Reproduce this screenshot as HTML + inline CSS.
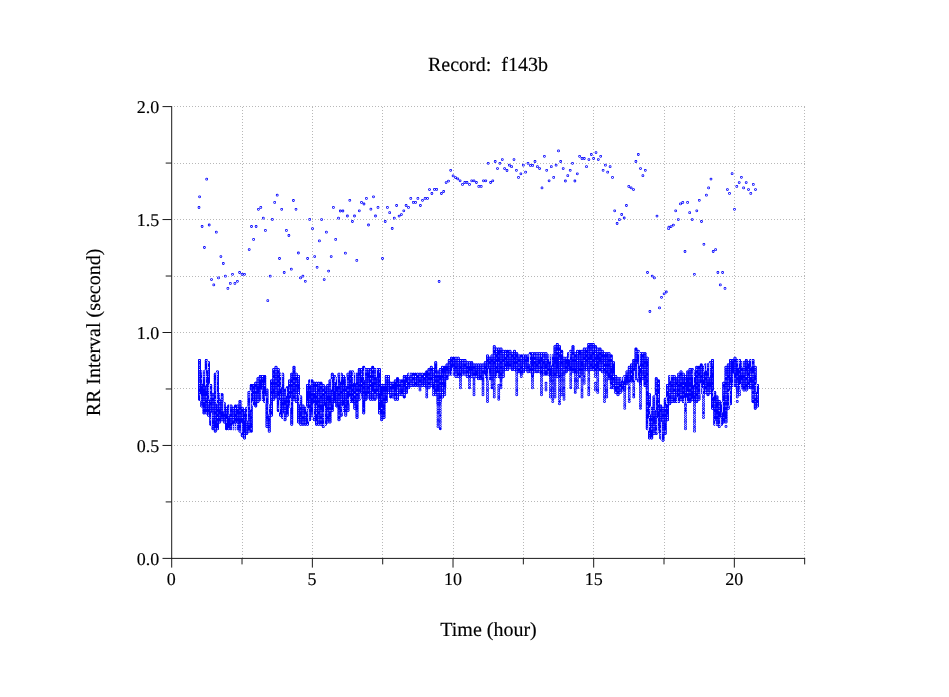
<!DOCTYPE html>
<html lang="en"><head><meta charset="utf-8"><title>Record: f143b</title>
<style>html,body{margin:0;padding:0;background:#fff;}body{width:949px;height:697px;overflow:hidden;position:relative;font-family:"Liberation Serif",serif;}</style>
</head><body>
<svg width="949" height="697" viewBox="0 0 949 697" style="display:block;position:absolute;left:0;top:0">
<rect width="949" height="697" fill="#fff"/>
<g stroke="#b8b8b8" stroke-width="1" stroke-dasharray="1 2" fill="none" shape-rendering="crispEdges"><path d="M242.5 107V558"/><path d="M312.5 107V558"/><path d="M382.5 107V558"/><path d="M453.5 107V558"/><path d="M523.5 107V558"/><path d="M593.5 107V558"/><path d="M664.5 107V558"/><path d="M734.5 107V558"/><path d="M804.5 107V558"/><path d="M174 501.5H806"/><path d="M174 445.5H806"/><path d="M174 388.5H806"/><path d="M174 332.5H806"/><path d="M174 276.5H806"/><path d="M174 219.5H806"/><path d="M174 163.5H806"/><path d="M174 106.5H806"/></g>
<g fill="none" stroke-linecap="round"><path stroke="#0000ff" stroke-width="2.8" d="M206.7 179.2h0M199.6 196.8h0M199.0 207.5h0M202.1 226.5h0M209.2 225.0h0M216.3 232.2h0M204.4 247.5h0M277.2 195.2h0M274.7 202.4h0M293.4 200.5h0M260.8 207.4h0M258.4 209.3h0M281.7 209.3h0M296.0 209.3h0M263.3 218.2h0M272.3 219.4h0M309.7 219.4h0M251.5 226.5h0M256.1 226.5h0M265.4 230.4h0M286.4 230.4h0M288.9 235.5h0M253.6 239.4h0M249.2 249.6h0M220.9 256.6h0M223.3 263.5h0M279.5 258.5h0M298.4 253.0h0M307.6 258.5h0M291.3 269.2h0M284.2 272.5h0M239.6 272.5h0M232.5 274.3h0M242.1 274.4h0M244.5 274.3h0M225.4 276.2h0M270.2 276.2h0M302.9 276.2h0M300.5 277.9h0M218.5 277.9h0M211.5 279.6h0M305.3 281.3h0M237.4 281.3h0M230.3 283.4h0M234.9 283.4h0M213.8 284.9h0M227.9 288.4h0M267.8 300.7h0M312.5 228.7h0M321.6 219.6h0M326.4 232.2h0M319.4 240.9h0M333.4 207.4h0M335.7 239.4h0M338.5 218.2h0M340.3 211.0h0M342.9 211.0h0M347.4 216.0h0M349.8 200.3h0M352.4 221.5h0M354.5 216.0h0M359.3 210.8h0M361.5 202.4h0M364.0 204.0h0M366.4 198.4h0M368.5 225.0h0M370.9 209.2h0M373.5 196.8h0M375.5 216.0h0M378.0 207.4h0M385.2 221.5h0M387.4 207.4h0M389.7 212.7h0M392.2 228.5h0M394.3 218.2h0M396.6 205.5h0M399.1 216.1h0M401.4 214.6h0M403.8 210.8h0M406.1 205.5h0M408.5 207.4h0M410.8 198.4h0M413.3 202.4h0M415.6 202.4h0M417.9 198.4h0M420.4 205.5h0M422.5 200.3h0M425.1 198.4h0M427.5 198.4h0M429.5 189.6h0M314.7 256.6h0M331.2 256.6h0M345.4 253.2h0M356.8 260.4h0M382.5 258.5h0M317.1 267.3h0M328.6 271.1h0M324.2 279.6h0M431.9 193.5h0M434.4 189.4h0M436.7 189.4h0M441.4 193.5h0M443.7 191.5h0M446.1 182.6h0M448.5 181.1h0M450.7 170.3h0M453.1 175.9h0M455.5 177.6h0M457.8 178.9h0M460.1 180.8h0M462.5 184.4h0M464.8 182.5h0M467.0 182.5h0M469.5 184.4h0M471.7 180.8h0M474.0 180.8h0M476.4 182.5h0M478.8 186.4h0M481.2 186.4h0M483.5 180.8h0M485.8 180.8h0M488.2 163.3h0M490.6 182.5h0M492.8 180.8h0M495.2 161.5h0M497.5 168.6h0M499.9 163.3h0M502.3 159.6h0M504.6 168.6h0M507.0 170.5h0M509.3 165.2h0M511.6 166.7h0M514.0 159.6h0M516.4 170.3h0M518.5 177.4h0M520.9 173.8h0M523.3 165.2h0M525.6 172.2h0M528.0 163.3h0M530.4 165.4h0M532.7 165.4h0M535.0 161.5h0M537.4 166.7h0M539.6 168.6h0M542.0 187.9h0M544.4 156.3h0M546.7 170.3h0M549.1 180.8h0M439.1 281.5h0M551.3 166.7h0M553.7 177.4h0M556.1 165.2h0M558.5 150.9h0M560.7 161.5h0M563.2 168.6h0M565.4 181.0h0M567.8 175.7h0M570.2 170.3h0M572.5 163.3h0M574.9 181.0h0M577.3 173.8h0M579.6 156.3h0M582.0 158.5h0M584.3 158.5h0M586.5 166.7h0M588.9 159.6h0M591.3 154.5h0M593.6 158.5h0M596.0 152.6h0M598.3 159.6h0M600.7 156.3h0M603.1 170.3h0M605.4 165.2h0M607.7 172.2h0M610.1 166.7h0M612.5 177.4h0M614.7 210.8h0M617.1 223.5h0M619.4 219.7h0M621.7 214.5h0M624.2 218.0h0M626.4 205.5h0M628.8 186.4h0M631.1 187.9h0M633.5 189.6h0M635.9 161.5h0M638.3 154.5h0M640.5 168.6h0M642.9 175.7h0M645.3 170.3h0M657.0 216.1h0M668.9 227.2h0M647.5 272.5h0M652.2 276.1h0M654.4 277.9h0M666.3 292.0h0M664.1 293.8h0M661.5 297.3h0M659.5 307.9h0M649.9 311.5h0M668.6 228.7h0M671.1 226.6h0M673.4 225.1h0M675.7 210.8h0M678.3 219.6h0M680.5 203.9h0M682.8 202.4h0M687.6 202.4h0M689.7 212.7h0M692.2 219.6h0M696.8 210.8h0M699.3 200.3h0M701.5 221.5h0M703.9 244.3h0M706.4 195.2h0M708.6 187.9h0M711.0 179.1h0M727.4 189.6h0M729.5 193.4h0M732.1 173.7h0M734.5 209.3h0M736.8 186.4h0M739.2 182.6h0M741.4 177.3h0M743.6 187.9h0M746.2 182.6h0M748.5 189.6h0M750.8 193.4h0M753.3 184.4h0M755.5 189.6h0M685.0 251.5h0M715.6 249.7h0M713.2 251.5h0M694.4 274.3h0M717.9 272.5h0M722.6 272.5h0M720.3 284.9h0M725.0 288.4h0"/><path stroke="#fff" stroke-width="1.2" d="M206.7 179.2h0M199.6 196.8h0M199.0 207.5h0M202.1 226.5h0M209.2 225.0h0M216.3 232.2h0M204.4 247.5h0M277.2 195.2h0M274.7 202.4h0M293.4 200.5h0M260.8 207.4h0M258.4 209.3h0M281.7 209.3h0M296.0 209.3h0M263.3 218.2h0M272.3 219.4h0M309.7 219.4h0M251.5 226.5h0M256.1 226.5h0M265.4 230.4h0M286.4 230.4h0M288.9 235.5h0M253.6 239.4h0M249.2 249.6h0M220.9 256.6h0M223.3 263.5h0M279.5 258.5h0M298.4 253.0h0M307.6 258.5h0M291.3 269.2h0M284.2 272.5h0M239.6 272.5h0M232.5 274.3h0M242.1 274.4h0M244.5 274.3h0M225.4 276.2h0M270.2 276.2h0M302.9 276.2h0M300.5 277.9h0M218.5 277.9h0M211.5 279.6h0M305.3 281.3h0M237.4 281.3h0M230.3 283.4h0M234.9 283.4h0M213.8 284.9h0M227.9 288.4h0M267.8 300.7h0M312.5 228.7h0M321.6 219.6h0M326.4 232.2h0M319.4 240.9h0M333.4 207.4h0M335.7 239.4h0M338.5 218.2h0M340.3 211.0h0M342.9 211.0h0M347.4 216.0h0M349.8 200.3h0M352.4 221.5h0M354.5 216.0h0M359.3 210.8h0M361.5 202.4h0M364.0 204.0h0M366.4 198.4h0M368.5 225.0h0M370.9 209.2h0M373.5 196.8h0M375.5 216.0h0M378.0 207.4h0M385.2 221.5h0M387.4 207.4h0M389.7 212.7h0M392.2 228.5h0M394.3 218.2h0M396.6 205.5h0M399.1 216.1h0M401.4 214.6h0M403.8 210.8h0M406.1 205.5h0M408.5 207.4h0M410.8 198.4h0M413.3 202.4h0M415.6 202.4h0M417.9 198.4h0M420.4 205.5h0M422.5 200.3h0M425.1 198.4h0M427.5 198.4h0M429.5 189.6h0M314.7 256.6h0M331.2 256.6h0M345.4 253.2h0M356.8 260.4h0M382.5 258.5h0M317.1 267.3h0M328.6 271.1h0M324.2 279.6h0M431.9 193.5h0M434.4 189.4h0M436.7 189.4h0M441.4 193.5h0M443.7 191.5h0M446.1 182.6h0M448.5 181.1h0M450.7 170.3h0M453.1 175.9h0M455.5 177.6h0M457.8 178.9h0M460.1 180.8h0M462.5 184.4h0M464.8 182.5h0M467.0 182.5h0M469.5 184.4h0M471.7 180.8h0M474.0 180.8h0M476.4 182.5h0M478.8 186.4h0M481.2 186.4h0M483.5 180.8h0M485.8 180.8h0M488.2 163.3h0M490.6 182.5h0M492.8 180.8h0M495.2 161.5h0M497.5 168.6h0M499.9 163.3h0M502.3 159.6h0M504.6 168.6h0M507.0 170.5h0M509.3 165.2h0M511.6 166.7h0M514.0 159.6h0M516.4 170.3h0M518.5 177.4h0M520.9 173.8h0M523.3 165.2h0M525.6 172.2h0M528.0 163.3h0M530.4 165.4h0M532.7 165.4h0M535.0 161.5h0M537.4 166.7h0M539.6 168.6h0M542.0 187.9h0M544.4 156.3h0M546.7 170.3h0M549.1 180.8h0M439.1 281.5h0M551.3 166.7h0M553.7 177.4h0M556.1 165.2h0M558.5 150.9h0M560.7 161.5h0M563.2 168.6h0M565.4 181.0h0M567.8 175.7h0M570.2 170.3h0M572.5 163.3h0M574.9 181.0h0M577.3 173.8h0M579.6 156.3h0M582.0 158.5h0M584.3 158.5h0M586.5 166.7h0M588.9 159.6h0M591.3 154.5h0M593.6 158.5h0M596.0 152.6h0M598.3 159.6h0M600.7 156.3h0M603.1 170.3h0M605.4 165.2h0M607.7 172.2h0M610.1 166.7h0M612.5 177.4h0M614.7 210.8h0M617.1 223.5h0M619.4 219.7h0M621.7 214.5h0M624.2 218.0h0M626.4 205.5h0M628.8 186.4h0M631.1 187.9h0M633.5 189.6h0M635.9 161.5h0M638.3 154.5h0M640.5 168.6h0M642.9 175.7h0M645.3 170.3h0M657.0 216.1h0M668.9 227.2h0M647.5 272.5h0M652.2 276.1h0M654.4 277.9h0M666.3 292.0h0M664.1 293.8h0M661.5 297.3h0M659.5 307.9h0M649.9 311.5h0M668.6 228.7h0M671.1 226.6h0M673.4 225.1h0M675.7 210.8h0M678.3 219.6h0M680.5 203.9h0M682.8 202.4h0M687.6 202.4h0M689.7 212.7h0M692.2 219.6h0M696.8 210.8h0M699.3 200.3h0M701.5 221.5h0M703.9 244.3h0M706.4 195.2h0M708.6 187.9h0M711.0 179.1h0M727.4 189.6h0M729.5 193.4h0M732.1 173.7h0M734.5 209.3h0M736.8 186.4h0M739.2 182.6h0M741.4 177.3h0M743.6 187.9h0M746.2 182.6h0M748.5 189.6h0M750.8 193.4h0M753.3 184.4h0M755.5 189.6h0M685.0 251.5h0M715.6 249.7h0M713.2 251.5h0M694.4 274.3h0M717.9 272.5h0M722.6 272.5h0M720.3 284.9h0M725.0 288.4h0"/></g><g fill="none" stroke-linecap="round"><path stroke="#0000ff" stroke-width="2.85" d="M199.50 360.46v38.76M201.75 371.86v34.20M204.00 371.86v41.04M206.25 360.46v52.44M208.50 362.74v52.44M210.75 385.54v38.76M213.00 394.66v34.20M215.25 374.14v57.00M217.50 371.86v57.00M219.75 394.66v27.36M222.00 394.66v25.08M224.25 403.78v18.24M226.50 408.34v20.52M228.75 406.06v22.80M231.00 406.06v22.80M233.25 408.34v20.52M235.50 406.06v22.80M237.75 406.06v22.80M240.00 401.50v29.64M242.25 408.34v27.36M244.50 410.62v27.36M246.75 408.34v25.08M249.00 392.38v38.76M251.25 385.54v45.60M253.50 385.54v18.24M255.75 383.26v22.80M258.00 378.70v22.80M260.25 376.42v22.80M262.50 376.42v22.80M264.75 376.42v25.08M267.00 390.10v36.48M269.25 406.06v25.08M271.50 380.98v34.20M273.75 369.58v29.64M276.00 367.30v29.64M278.25 369.58v41.04M280.50 374.14v41.04M282.75 374.14v43.32M285.00 390.10v29.64M287.25 387.82v27.36M289.50 380.98v25.08M291.75 374.14v50.16M294.00 367.30v31.92M296.25 374.14v27.36M298.50 376.42v45.60M300.75 396.94v27.36M303.00 406.06v18.24M305.25 408.34v15.96M307.50 385.54v38.76M309.75 380.98v38.76M312.00 380.98v34.20M314.25 383.26v36.48M316.50 383.26v41.04M318.75 383.26v41.04M321.00 383.26v41.04M323.25 385.54v41.04M325.50 387.82v36.48M327.75 385.54v36.48M330.00 380.98v41.04M332.25 374.14v36.48M334.50 376.42v25.08M336.75 378.70v27.36M339.00 374.14v45.60M341.25 374.14v41.04M343.50 376.42v34.20M345.75 378.70v36.48M348.00 374.14v36.48M350.25 371.86v29.64M352.50 371.86v29.64M354.75 374.14v34.20M357.00 374.14v43.32M359.25 369.58v29.64M361.50 369.58v27.36M363.75 367.30v45.60M366.00 369.58v29.64M368.25 369.58v27.36M370.50 369.58v29.64M372.75 367.30v31.92M375.00 369.58v29.64M377.25 369.58v27.36M379.50 369.58v43.32M381.75 385.54v34.20M384.00 385.54v31.92M386.25 376.42v25.08M388.50 376.42v15.96M390.75 383.26v13.68M393.00 383.26v13.68M395.25 380.98v18.24M397.50 378.70v20.52M399.75 380.98v13.68M402.00 380.98v13.68M404.25 376.42v20.52M406.50 376.42v15.96M408.75 374.14v13.68M411.00 374.14v11.40M413.25 374.14v11.40M415.50 374.14v11.40M417.75 374.14v11.40M420.00 374.14v11.40M422.25 374.14v11.40M424.50 374.14v11.40M426.75 371.86v15.96M429.00 369.58v18.24M431.25 367.30v18.24M433.50 369.58v18.24M435.75 362.74v31.92M438.00 371.86v31.92M440.25 369.58v31.92M442.50 367.30v29.64M444.75 367.30v20.52M447.00 365.02v13.68M449.25 360.46v13.68M451.50 358.18v15.96M453.75 358.18v15.96M456.00 358.18v18.24M458.25 358.18v18.24M460.50 360.46v15.96M462.75 360.46v13.68M465.00 360.46v13.68M467.25 362.74v13.68M469.50 362.74v13.68M471.75 362.74v13.68M474.00 365.02v11.40M476.25 365.02v11.40M478.50 365.02v13.68M480.75 365.02v13.68M483.00 365.02v11.40M485.25 362.74v13.68M487.50 355.90v22.80M489.75 358.18v20.52M492.00 355.90v22.80M494.25 346.78v29.64M496.50 349.06v27.36M498.75 349.06v27.36M501.00 349.06v29.64M503.25 351.34v25.08M505.50 351.34v18.24M507.75 351.34v18.24M510.00 351.34v15.96M512.25 353.62v15.96M514.50 351.34v18.24M516.75 353.62v18.24M519.00 355.90v15.96M521.25 355.90v18.24M523.50 355.90v15.96M525.75 355.90v13.68M528.00 355.90v15.96M530.25 353.62v18.24M532.50 353.62v22.80M534.75 353.62v18.24M537.00 353.62v18.24M539.25 353.62v18.24M541.50 353.62v20.52M543.75 353.62v20.52M546.00 353.62v20.52M548.25 355.90v18.24M550.50 355.90v20.52M552.75 355.90v20.52M555.00 346.78v29.64M557.25 344.50v31.92M559.50 346.78v29.64M561.75 351.34v25.08M564.00 358.18v15.96M566.25 358.18v13.68M568.50 353.62v15.96M570.75 351.34v18.24M573.00 346.78v25.08M575.25 353.62v18.24M577.50 351.34v20.52M579.75 351.34v20.52M582.00 351.34v18.24M584.25 349.06v20.52M586.50 349.06v20.52M588.75 344.50v25.08M591.00 344.50v25.08M593.25 344.50v25.08M595.50 346.78v22.80M597.75 349.06v20.52M600.00 349.06v20.52M602.25 351.34v20.52M604.50 353.62v18.24M606.75 353.62v20.52M609.00 353.62v25.08M611.25 355.90v27.36M613.50 362.74v25.08M615.75 376.42v15.96M618.00 378.70v15.96M620.25 378.70v13.68M622.50 378.70v11.40M624.75 376.42v13.68M627.00 371.86v11.40M629.25 367.30v13.68M631.50 365.02v15.96M633.75 360.46v18.24M636.00 349.06v29.64M638.25 351.34v25.08M640.50 353.62v31.92M642.75 353.62v25.08M645.00 353.62v31.92M647.25 358.18v70.68M649.50 394.66v43.32M651.75 408.34v29.64M654.00 396.94v36.48M656.25 378.70v54.72M658.50 380.98v50.16M660.75 406.06v31.92M663.00 408.34v31.92M665.25 399.22v34.20M667.50 385.54v34.20M669.75 376.42v27.36M672.00 376.42v25.08M674.25 376.42v25.08M676.50 378.70v22.80M678.75 374.14v27.36M681.00 371.86v27.36M683.25 374.14v27.36M685.50 376.42v27.36M687.75 371.86v29.64M690.00 369.58v31.92M692.25 369.58v29.64M694.50 371.86v29.64M696.75 367.30v34.20M699.00 367.30v31.92M701.25 365.02v27.36M703.50 367.30v25.08M705.75 365.02v27.36M708.00 365.02v29.64M710.25 362.74v29.64M712.50 360.46v47.88M714.75 392.38v31.92M717.00 396.94v27.36M719.25 401.50v25.08M721.50 403.78v20.52M723.75 383.26v38.76M726.00 367.30v54.72M728.25 365.02v43.32M730.50 360.46v43.32M732.75 360.46v25.08M735.00 358.18v27.36M737.25 360.46v27.36M739.50 360.46v27.36M741.75 362.74v25.08M744.00 362.74v27.36M746.25 360.46v29.64M748.50 362.74v25.08M750.75 360.46v27.36M753.00 360.46v41.04M755.25 367.30v41.04M757.50 385.54v20.52"/><path stroke="#0000ff" stroke-width="2.95" stroke-dasharray="0 2.28" d="M199.50 360.46v38.77M201.75 371.86v34.21M204.00 371.86v41.05M206.25 360.46v52.45M208.50 362.74v52.45M210.75 385.54v38.77M213.00 394.66v34.21M215.25 374.14v57.01M217.50 371.86v57.01M219.75 394.66v27.37M222.00 394.66v25.09M224.25 403.78v18.25M226.50 408.34v20.53M228.75 406.06v22.81M231.00 406.06v22.81M233.25 408.34v20.53M235.50 406.06v22.81M237.75 406.06v22.81M240.00 401.50v29.65M242.25 408.34v27.37M244.50 410.62v27.37M246.75 408.34v25.09M249.00 392.38v38.77M251.25 385.54v45.61M253.50 385.54v18.25M255.75 383.26v22.81M258.00 378.70v22.81M260.25 376.42v22.81M262.50 376.42v22.81M264.75 376.42v25.09M267.00 390.10v36.49M269.25 406.06v25.09M271.50 380.98v34.21M273.75 369.58v29.65M276.00 367.30v29.65M278.25 369.58v41.05M280.50 374.14v41.05M282.75 374.14v43.33M285.00 390.10v29.65M287.25 387.82v27.37M289.50 380.98v25.09M291.75 374.14v50.17M294.00 367.30v31.93M296.25 374.14v27.37M298.50 376.42v45.61M300.75 396.94v27.37M303.00 406.06v18.25M305.25 408.34v15.97M307.50 385.54v38.77M309.75 380.98v38.77M312.00 380.98v34.21M314.25 383.26v36.49M316.50 383.26v41.05M318.75 383.26v41.05M321.00 383.26v41.05M323.25 385.54v41.05M325.50 387.82v36.49M327.75 385.54v36.49M330.00 380.98v41.05M332.25 374.14v36.49M334.50 376.42v25.09M336.75 378.70v27.37M339.00 374.14v45.61M341.25 374.14v41.05M343.50 376.42v34.21M345.75 378.70v36.49M348.00 374.14v36.49M350.25 371.86v29.65M352.50 371.86v29.65M354.75 374.14v34.21M357.00 374.14v43.33M359.25 369.58v29.65M361.50 369.58v27.37M363.75 367.30v45.61M366.00 369.58v29.65M368.25 369.58v27.37M370.50 369.58v29.65M372.75 367.30v31.93M375.00 369.58v29.65M377.25 369.58v27.37M379.50 369.58v43.33M381.75 385.54v34.21M384.00 385.54v31.93M386.25 376.42v25.09M388.50 376.42v15.97M390.75 383.26v13.69M393.00 383.26v13.69M395.25 380.98v18.25M397.50 378.70v20.53M399.75 380.98v13.69M402.00 380.98v13.69M404.25 376.42v20.53M406.50 376.42v15.97M408.75 374.14v13.69M411.00 374.14v11.41M413.25 374.14v11.41M415.50 374.14v11.41M417.75 374.14v11.41M420.00 374.14v15.97M422.25 374.14v11.41M424.50 374.14v11.41M426.75 371.86v25.09M429.00 369.58v18.25M431.25 367.30v18.25M433.50 369.58v25.09M435.75 362.74v31.93M438.00 371.86v54.73M440.25 369.58v59.29M442.50 367.30v29.65M444.75 367.30v27.37M447.00 365.02v13.69M449.25 360.46v13.69M451.50 358.18v15.97M453.75 358.18v15.97M456.00 358.18v18.25M458.25 358.18v18.25M460.50 360.46v27.37M462.75 360.46v13.69M465.00 360.46v13.69M467.25 362.74v13.69M469.50 362.74v25.09M471.75 362.74v13.69M474.00 365.02v29.65M476.25 365.02v11.41M478.50 365.02v13.69M480.75 365.02v13.69M483.00 365.02v29.65M485.25 362.74v13.69M487.50 355.90v45.61M489.75 358.18v20.53M492.00 355.90v31.93M494.25 346.78v50.17M496.50 349.06v27.37M498.75 385.54v13.69M498.75 349.06v27.37M501.00 349.06v38.77M503.25 351.34v25.09M505.50 351.34v18.25M507.75 351.34v18.25M510.00 351.34v15.97M512.25 353.62v15.97M514.50 351.34v18.25M516.75 353.62v41.05M519.00 355.90v15.97M521.25 355.90v20.53M523.50 355.90v15.97M525.75 355.90v13.69M528.00 355.90v15.97M530.25 353.62v18.25M532.50 353.62v34.21M534.75 353.62v18.25M537.00 353.62v18.25M539.25 353.62v18.25M541.50 353.62v41.05M543.75 353.62v20.53M546.00 383.26v6.85M546.00 353.62v20.53M548.25 355.90v18.25M550.50 355.90v41.05M552.75 355.90v45.61M555.00 346.78v50.17M557.25 344.50v31.93M559.50 346.78v57.01M561.75 351.34v43.33M564.00 358.18v41.05M566.25 358.18v13.69M568.50 353.62v15.97M570.75 351.34v36.49M573.00 346.78v25.09M575.25 353.62v38.77M577.50 351.34v36.49M579.75 351.34v25.09M582.00 351.34v45.61M584.25 349.06v34.21M586.50 349.06v20.53M588.75 344.50v50.17M591.00 344.50v25.09M593.25 344.50v25.09M595.50 383.26v6.85M595.50 346.78v29.65M597.75 349.06v43.33M600.00 349.06v20.53M602.25 351.34v20.53M604.50 353.62v47.89M606.75 353.62v43.33M609.00 353.62v25.09M611.25 355.90v31.93M613.50 362.74v25.09M615.75 376.42v15.97M618.00 378.70v15.97M620.25 378.70v13.69M622.50 378.70v11.41M624.75 376.42v31.93M627.00 371.86v11.41M629.25 367.30v34.21M631.50 365.02v15.97M633.75 360.46v36.49M636.00 349.06v29.65M638.25 351.34v29.65M640.50 353.62v54.73M642.75 353.62v25.09M645.00 353.62v31.93M647.25 358.18v70.69M649.50 394.66v43.33M651.75 408.34v29.65M654.00 396.94v36.49M656.25 378.70v54.73M658.50 380.98v50.17M660.75 406.06v31.93M663.00 408.34v31.93M665.25 399.22v34.21M667.50 385.54v34.21M669.75 376.42v27.37M672.00 376.42v25.09M674.25 376.42v25.09M676.50 378.70v22.81M678.75 374.14v27.37M681.00 371.86v27.37M683.25 374.14v27.37M685.50 376.42v52.45M687.75 371.86v29.65M690.00 369.58v31.93M692.25 369.58v29.65M694.50 371.86v59.29M696.75 367.30v34.21M699.00 367.30v31.93M701.25 365.02v27.37M703.50 367.30v50.17M705.75 365.02v27.37M708.00 365.02v29.65M710.25 362.74v29.65M712.50 360.46v47.89M714.75 392.38v31.93M717.00 396.94v27.37M719.25 401.50v25.09M721.50 403.78v20.53M723.75 383.26v38.77M726.00 426.58v0.01M726.00 367.30v54.73M728.25 365.02v43.33M730.50 360.46v43.33M732.75 360.46v25.09M735.00 358.18v27.37M737.25 401.50v0.01M737.25 360.46v36.49M739.50 360.46v34.21M741.75 362.74v25.09M744.00 362.74v27.37M746.25 360.46v29.65M748.50 362.74v25.09M750.75 360.46v27.37M753.00 360.46v41.05M755.25 367.30v41.05M757.50 385.54v20.53"/><path stroke="#fff" stroke-width="1" stroke-opacity="0.75" stroke-linecap="butt" d="M200.5 394.2V401.2M202.5 369.9V383.8M205.5 369.9V385.7M207.5 360.7V370.3M209.5 383.5V399.6M211.5 412.7V426.3M216.5 372.1V403.7M220.5 392.7V399.2M223.5 401.8V411.3M229.5 404.1V414.2M232.5 424.6V430.9M234.5 423.6V430.9M236.5 423.2V430.9M241.5 422.8V433.1M247.5 406.3V420.7M250.5 390.4V409.7M252.5 401.3V405.8M261.5 389.7V401.2M265.5 396.0V403.5M268.5 404.1V414.4M279.5 400.2V412.6M281.5 372.1V387.2M283.5 413.5V419.5M286.5 388.1V395.8M290.5 398.2V408.1M299.5 394.9V404.4M306.5 406.3V411.5M308.5 408.5V421.7M310.5 379.0V385.1M313.5 403.6V417.2M324.5 405.8V426.3M331.5 379.0V389.6M335.5 376.7V382.1M337.5 376.7V386.0M340.5 372.1V381.7M342.5 406.1V412.6M346.5 376.7V386.0M349.5 396.8V403.5M353.5 372.1V383.1M355.5 372.1V383.3M360.5 393.4V398.9M364.5 367.6V380.1M376.5 367.6V377.2M409.5 372.1V375.6M452.5 367.7V376.1M484.5 374.3V378.4M488.5 368.9V380.7M497.5 373.0V378.4M529.5 353.9V364.1M549.5 353.9V361.5M551.5 353.9V365.4M569.5 351.6V359.4M621.5 376.7V380.7M623.5 376.7V381.2M634.5 370.9V380.7M637.5 363.9V378.4M639.5 351.6V365.7M648.5 418.4V430.9M650.5 406.3V414.4M655.5 394.9V410.0M657.5 418.0V433.1M661.5 421.9V440.0M666.5 397.2V404.0M670.5 374.4V380.8M677.5 397.3V403.5M684.5 397.9V403.5M686.5 397.7V403.5M693.5 369.9V385.2M700.5 383.4V394.4M702.5 388.0V394.4M704.5 365.3V371.5M706.5 363.0V370.7M709.5 363.0V377.2M713.5 390.4V396.7M715.5 420.8V426.3M720.5 417.6V426.3M722.5 401.8V412.4M729.5 390.7V405.8M733.5 373.6V387.5M738.5 358.5V367.8M740.5 384.0V389.8M742.5 360.7V367.5M751.5 358.5V366.6M756.5 383.5V391.9"/><path stroke="#fff" stroke-width="1.15" d="M199.50 383.26h0M199.50 369.58h0M199.50 365.02h0M199.50 360.46h0M201.75 406.06h0M201.75 378.70h0M201.75 371.86h0M204.00 401.50h0M204.00 376.42h0M204.00 374.14h0M204.00 371.86h0M206.25 412.90h0M206.25 396.94h0M206.25 383.26h0M206.25 376.42h0M206.25 360.46h0M208.50 415.18h0M208.50 403.78h0M208.50 401.50h0M208.50 390.10h0M208.50 387.82h0M208.50 367.30h0M208.50 362.74h0M210.75 419.74h0M210.75 396.94h0M210.75 390.10h0M210.75 385.54h0M213.00 417.46h0M213.00 415.18h0M213.00 406.06h0M213.00 396.94h0M215.25 428.86h0M215.25 401.50h0M215.25 399.22h0M217.50 428.86h0M217.50 417.46h0M217.50 403.78h0M217.50 399.22h0M217.50 374.14h0M217.50 371.86h0M219.75 422.02h0M219.75 406.06h0M219.75 401.50h0M219.75 396.94h0M219.75 394.66h0M222.00 419.74h0M222.00 399.22h0M222.00 396.94h0M224.25 422.02h0M224.25 403.78h0M226.50 422.02h0M226.50 419.74h0M226.50 408.34h0M228.75 428.86h0M228.75 415.18h0M231.00 417.46h0M231.00 406.06h0M233.25 428.86h0M233.25 426.58h0M233.25 419.74h0M233.25 417.46h0M233.25 408.34h0M235.50 428.86h0M235.50 426.58h0M235.50 408.34h0M237.75 424.30h0M237.75 408.34h0M237.75 406.06h0M240.00 431.14h0M240.00 403.78h0M242.25 435.70h0M242.25 417.46h0M242.25 408.34h0M244.50 437.98h0M244.50 435.70h0M244.50 410.62h0M246.75 422.02h0M246.75 412.90h0M246.75 408.34h0M249.00 431.14h0M249.00 422.02h0M249.00 406.06h0M249.00 396.94h0M249.00 394.66h0M249.00 392.38h0M251.25 428.86h0M251.25 403.78h0M251.25 392.38h0M255.75 390.10h0M255.75 383.26h0M258.00 401.50h0M258.00 399.22h0M258.00 383.26h0M258.00 380.98h0M258.00 378.70h0M260.25 378.70h0M262.50 399.22h0M262.50 376.42h0M264.75 401.50h0M264.75 385.54h0M267.00 426.58h0M267.00 424.30h0M267.00 422.02h0M267.00 396.94h0M267.00 390.10h0M269.25 431.14h0M269.25 428.86h0M269.25 415.18h0M269.25 408.34h0M269.25 406.06h0M271.50 415.18h0M271.50 408.34h0M271.50 406.06h0M271.50 396.94h0M271.50 380.98h0M273.75 399.22h0M273.75 378.70h0M273.75 369.58h0M276.00 390.10h0M276.00 380.98h0M276.00 371.86h0M276.00 369.58h0M276.00 367.30h0M278.25 408.34h0M278.25 396.94h0M278.25 387.82h0M278.25 369.58h0M280.50 415.18h0M280.50 396.94h0M280.50 387.82h0M280.50 380.98h0M280.50 376.42h0M280.50 374.14h0M282.75 417.46h0M282.75 396.94h0M282.75 376.42h0M282.75 374.14h0M285.00 419.74h0M285.00 417.46h0M285.00 410.62h0M285.00 406.06h0M285.00 396.94h0M287.25 415.18h0M289.50 406.06h0M289.50 390.10h0M289.50 383.26h0M289.50 380.98h0M291.75 424.30h0M291.75 419.74h0M291.75 401.50h0M291.75 383.26h0M294.00 399.22h0M294.00 380.98h0M296.25 401.50h0M296.25 399.22h0M296.25 396.94h0M296.25 394.66h0M296.25 383.26h0M296.25 376.42h0M296.25 374.14h0M298.50 422.02h0M298.50 419.74h0M298.50 401.50h0M298.50 394.66h0M298.50 392.38h0M298.50 378.70h0M298.50 376.42h0M300.75 424.30h0M300.75 406.06h0M300.75 399.22h0M300.75 396.94h0M303.00 422.02h0M303.00 415.18h0M303.00 406.06h0M305.25 422.02h0M305.25 415.18h0M307.50 424.30h0M307.50 408.34h0M307.50 403.78h0M307.50 385.54h0M309.75 403.78h0M309.75 383.26h0M312.00 415.18h0M312.00 383.26h0M314.25 419.74h0M314.25 417.46h0M314.25 415.18h0M314.25 408.34h0M314.25 406.06h0M314.25 403.78h0M314.25 392.38h0M316.50 422.02h0M316.50 412.90h0M316.50 408.34h0M316.50 406.06h0M316.50 390.10h0M316.50 387.82h0M316.50 383.26h0M318.75 424.30h0M318.75 419.74h0M318.75 396.94h0M318.75 383.26h0M321.00 424.30h0M321.00 419.74h0M321.00 412.90h0M321.00 403.78h0M321.00 385.54h0M323.25 426.58h0M323.25 424.30h0M323.25 417.46h0M323.25 412.90h0M323.25 392.38h0M323.25 387.82h0M323.25 385.54h0M325.50 424.30h0M327.75 422.02h0M327.75 412.90h0M327.75 385.54h0M330.00 422.02h0M330.00 410.62h0M330.00 406.06h0M330.00 387.82h0M330.00 380.98h0M332.25 410.62h0M332.25 396.94h0M332.25 376.42h0M334.50 380.98h0M336.75 378.70h0M339.00 419.74h0M339.00 415.18h0M339.00 401.50h0M339.00 374.14h0M341.25 412.90h0M341.25 406.06h0M341.25 399.22h0M341.25 376.42h0M343.50 410.62h0M343.50 408.34h0M343.50 406.06h0M343.50 376.42h0M345.75 415.18h0M345.75 412.90h0M345.75 392.38h0M345.75 378.70h0M348.00 410.62h0M348.00 399.22h0M348.00 390.10h0M348.00 383.26h0M348.00 380.98h0M348.00 374.14h0M350.25 401.50h0M350.25 399.22h0M352.50 376.42h0M352.50 371.86h0M354.75 408.34h0M354.75 406.06h0M354.75 394.66h0M354.75 374.14h0M357.00 417.46h0M357.00 412.90h0M357.00 392.38h0M359.25 399.22h0M361.50 396.94h0M361.50 383.26h0M361.50 374.14h0M361.50 369.58h0M363.75 412.90h0M363.75 376.42h0M363.75 371.86h0M366.00 371.86h0M366.00 369.58h0M368.25 396.94h0M368.25 394.66h0M368.25 383.26h0M368.25 369.58h0M370.50 399.22h0M370.50 390.10h0M370.50 387.82h0M370.50 383.26h0M370.50 378.70h0M370.50 374.14h0M370.50 371.86h0M372.75 399.22h0M372.75 392.38h0M372.75 380.98h0M372.75 369.58h0M375.00 396.94h0M375.00 394.66h0M375.00 387.82h0M375.00 374.14h0M375.00 369.58h0M377.25 396.94h0M377.25 392.38h0M377.25 369.58h0M379.50 412.90h0M379.50 410.62h0M379.50 371.86h0M379.50 369.58h0M381.75 419.74h0M381.75 408.34h0M381.75 385.54h0M384.00 417.46h0M384.00 385.54h0M386.25 401.50h0M386.25 378.70h0M386.25 376.42h0M388.50 392.38h0M388.50 378.70h0M388.50 376.42h0M390.75 392.38h0M390.75 385.54h0M390.75 383.26h0M393.00 396.94h0M393.00 392.38h0M393.00 390.10h0M393.00 383.26h0M395.25 399.22h0M395.25 396.94h0M395.25 380.98h0M397.50 399.22h0M397.50 396.94h0M397.50 392.38h0M397.50 390.10h0M399.75 394.66h0M399.75 387.82h0M399.75 383.26h0M399.75 380.98h0M402.00 394.66h0M402.00 383.26h0M404.25 394.66h0M404.25 392.38h0M404.25 378.70h0M406.50 385.54h0M406.50 383.26h0M408.75 387.82h0M408.75 380.98h0M408.75 376.42h0M408.75 374.14h0M411.00 385.54h0M411.00 383.26h0M411.00 378.70h0M411.00 374.14h0M413.25 383.26h0M413.25 380.98h0M413.25 376.42h0M415.50 380.98h0M415.50 376.42h0M417.75 374.14h0M420.00 390.10h0M420.00 387.82h0M420.00 383.26h0M420.00 376.42h0M422.25 385.54h0M422.25 374.14h0M424.50 385.54h0M424.50 376.42h0M426.75 396.94h0M426.75 392.38h0M426.75 390.10h0M429.00 387.82h0M429.00 385.54h0M429.00 380.98h0M429.00 371.86h0M431.25 385.54h0M431.25 383.26h0M431.25 380.98h0M431.25 367.30h0M433.50 394.66h0M433.50 392.38h0M433.50 390.10h0M433.50 380.98h0M433.50 378.70h0M433.50 371.86h0M433.50 369.58h0M435.75 394.66h0M435.75 383.26h0M435.75 374.14h0M435.75 362.74h0M438.00 426.58h0M438.00 422.02h0M438.00 417.46h0M438.00 415.18h0M438.00 410.62h0M438.00 408.34h0M438.00 406.06h0M438.00 401.50h0M438.00 392.38h0M438.00 374.14h0M440.25 426.58h0M440.25 424.30h0M440.25 422.02h0M440.25 419.74h0M440.25 417.46h0M440.25 412.90h0M440.25 410.62h0M440.25 408.34h0M440.25 406.06h0M440.25 401.50h0M440.25 399.22h0M440.25 392.38h0M440.25 380.98h0M440.25 374.14h0M440.25 371.86h0M440.25 369.58h0M442.50 396.94h0M442.50 394.66h0M442.50 392.38h0M442.50 387.82h0M442.50 380.98h0M442.50 367.30h0M444.75 394.66h0M444.75 390.10h0M447.00 374.14h0M447.00 365.02h0M449.25 374.14h0M449.25 365.02h0M449.25 360.46h0M451.50 374.14h0M451.50 371.86h0M453.75 371.86h0M456.00 376.42h0M456.00 374.14h0M456.00 358.18h0M458.25 376.42h0M458.25 362.74h0M458.25 360.46h0M458.25 358.18h0M460.50 387.82h0M460.50 385.54h0M460.50 383.26h0M460.50 380.98h0M460.50 378.70h0M460.50 360.46h0M462.75 374.14h0M462.75 362.74h0M462.75 360.46h0M465.00 374.14h0M465.00 369.58h0M465.00 362.74h0M465.00 360.46h0M467.25 376.42h0M467.25 374.14h0M467.25 365.02h0M467.25 362.74h0M469.50 385.54h0M469.50 383.26h0M469.50 380.98h0M469.50 378.70h0M469.50 374.14h0M469.50 365.02h0M469.50 362.74h0M471.75 376.42h0M474.00 394.66h0M474.00 392.38h0M474.00 390.10h0M474.00 387.82h0M474.00 385.54h0M474.00 380.98h0M474.00 376.42h0M474.00 365.02h0M476.25 376.42h0M476.25 365.02h0M478.50 378.70h0M478.50 365.02h0M480.75 365.02h0M483.00 394.66h0M483.00 392.38h0M483.00 390.10h0M483.00 385.54h0M483.00 369.58h0M483.00 367.30h0M483.00 365.02h0M485.25 376.42h0M485.25 362.74h0M487.50 401.50h0M487.50 399.22h0M487.50 396.94h0M487.50 394.66h0M487.50 392.38h0M487.50 387.82h0M487.50 385.54h0M487.50 383.26h0M487.50 380.98h0M487.50 355.90h0M489.75 376.42h0M489.75 365.02h0M492.00 383.26h0M492.00 380.98h0M492.00 355.90h0M494.25 396.94h0M494.25 394.66h0M494.25 392.38h0M494.25 390.10h0M494.25 387.82h0M494.25 385.54h0M494.25 380.98h0M494.25 378.70h0M494.25 355.90h0M494.25 349.06h0M494.25 346.78h0M496.50 376.42h0M496.50 365.02h0M496.50 362.74h0M496.50 351.34h0M496.50 349.06h0M498.75 399.22h0M498.75 394.66h0M498.75 392.38h0M498.75 390.10h0M498.75 387.82h0M498.75 385.54h0M498.75 362.74h0M498.75 349.06h0M501.00 387.82h0M501.00 383.26h0M501.00 349.06h0M503.25 376.42h0M503.25 374.14h0M503.25 365.02h0M503.25 362.74h0M503.25 353.62h0M503.25 351.34h0M505.50 369.58h0M505.50 367.30h0M505.50 355.90h0M505.50 353.62h0M507.75 369.58h0M510.00 367.30h0M510.00 355.90h0M510.00 351.34h0M512.25 353.62h0M514.50 369.58h0M514.50 351.34h0M516.75 394.66h0M516.75 392.38h0M516.75 387.82h0M516.75 385.54h0M516.75 383.26h0M516.75 380.98h0M516.75 378.70h0M516.75 376.42h0M516.75 374.14h0M516.75 371.86h0M516.75 365.02h0M519.00 367.30h0M519.00 362.74h0M519.00 355.90h0M521.25 376.42h0M521.25 358.18h0M523.50 367.30h0M523.50 365.02h0M523.50 355.90h0M525.75 369.58h0M528.00 371.86h0M528.00 362.74h0M528.00 355.90h0M530.25 371.86h0M530.25 365.02h0M530.25 360.46h0M530.25 355.90h0M532.50 387.82h0M532.50 385.54h0M532.50 383.26h0M532.50 380.98h0M532.50 378.70h0M532.50 371.86h0M532.50 353.62h0M534.75 371.86h0M534.75 360.46h0M534.75 355.90h0M537.00 369.58h0M537.00 355.90h0M537.00 353.62h0M539.25 371.86h0M539.25 369.58h0M539.25 365.02h0M539.25 355.90h0M539.25 353.62h0M541.50 394.66h0M541.50 390.10h0M541.50 387.82h0M541.50 383.26h0M541.50 380.98h0M541.50 378.70h0M541.50 355.90h0M541.50 353.62h0M543.75 374.14h0M543.75 371.86h0M543.75 369.58h0M543.75 358.18h0M543.75 353.62h0M546.00 390.10h0M546.00 387.82h0M546.00 385.54h0M546.00 383.26h0M546.00 369.58h0M546.00 360.46h0M546.00 353.62h0M548.25 374.14h0M548.25 371.86h0M548.25 358.18h0M548.25 355.90h0M550.50 396.94h0M550.50 394.66h0M550.50 392.38h0M550.50 387.82h0M550.50 385.54h0M550.50 383.26h0M550.50 355.90h0M552.75 401.50h0M552.75 396.94h0M552.75 394.66h0M552.75 392.38h0M552.75 390.10h0M552.75 385.54h0M552.75 378.70h0M552.75 367.30h0M552.75 355.90h0M555.00 396.94h0M555.00 394.66h0M555.00 392.38h0M555.00 390.10h0M555.00 387.82h0M555.00 380.98h0M555.00 378.70h0M555.00 346.78h0M557.25 376.42h0M557.25 374.14h0M557.25 351.34h0M557.25 344.50h0M559.50 403.78h0M559.50 399.22h0M559.50 396.94h0M559.50 394.66h0M559.50 392.38h0M559.50 387.82h0M559.50 385.54h0M559.50 383.26h0M559.50 380.98h0M559.50 378.70h0M559.50 360.46h0M559.50 351.34h0M559.50 346.78h0M561.75 394.66h0M561.75 392.38h0M561.75 390.10h0M561.75 387.82h0M561.75 385.54h0M561.75 383.26h0M561.75 380.98h0M561.75 378.70h0M561.75 371.86h0M561.75 367.30h0M561.75 353.62h0M564.00 399.22h0M564.00 396.94h0M564.00 392.38h0M564.00 390.10h0M564.00 385.54h0M564.00 383.26h0M564.00 380.98h0M564.00 378.70h0M564.00 376.42h0M564.00 369.58h0M564.00 358.18h0M566.25 358.18h0M568.50 358.18h0M570.75 385.54h0M570.75 383.26h0M570.75 380.98h0M570.75 378.70h0M570.75 376.42h0M570.75 371.86h0M570.75 353.62h0M570.75 351.34h0M573.00 371.86h0M573.00 355.90h0M575.25 390.10h0M575.25 387.82h0M575.25 385.54h0M575.25 383.26h0M575.25 376.42h0M575.25 374.14h0M575.25 353.62h0M577.50 387.82h0M577.50 385.54h0M577.50 383.26h0M577.50 378.70h0M577.50 376.42h0M577.50 374.14h0M577.50 360.46h0M577.50 353.62h0M577.50 351.34h0M579.75 374.14h0M579.75 371.86h0M582.00 396.94h0M582.00 394.66h0M582.00 392.38h0M582.00 387.82h0M582.00 385.54h0M582.00 383.26h0M582.00 380.98h0M582.00 378.70h0M582.00 376.42h0M582.00 351.34h0M584.25 383.26h0M584.25 380.98h0M584.25 378.70h0M584.25 374.14h0M584.25 371.86h0M584.25 362.74h0M584.25 360.46h0M584.25 349.06h0M586.50 369.58h0M586.50 367.30h0M586.50 349.06h0M588.75 394.66h0M588.75 392.38h0M588.75 390.10h0M588.75 385.54h0M588.75 383.26h0M588.75 380.98h0M588.75 376.42h0M588.75 374.14h0M588.75 365.02h0M588.75 344.50h0M591.00 369.58h0M591.00 360.46h0M591.00 351.34h0M593.25 369.58h0M593.25 349.06h0M593.25 344.50h0M595.50 390.10h0M595.50 387.82h0M595.50 385.54h0M595.50 383.26h0M595.50 376.42h0M595.50 374.14h0M595.50 371.86h0M595.50 362.74h0M595.50 353.62h0M595.50 349.06h0M597.75 392.38h0M597.75 387.82h0M597.75 385.54h0M597.75 383.26h0M597.75 380.98h0M597.75 378.70h0M597.75 376.42h0M597.75 374.14h0M597.75 371.86h0M597.75 351.34h0M597.75 349.06h0M600.00 367.30h0M600.00 365.02h0M600.00 351.34h0M602.25 371.86h0M602.25 369.58h0M602.25 367.30h0M602.25 365.02h0M602.25 351.34h0M604.50 401.50h0M604.50 399.22h0M604.50 394.66h0M604.50 392.38h0M604.50 390.10h0M604.50 387.82h0M604.50 383.26h0M604.50 380.98h0M604.50 378.70h0M604.50 374.14h0M604.50 367.30h0M604.50 362.74h0M604.50 353.62h0M606.75 396.94h0M606.75 394.66h0M606.75 387.82h0M606.75 385.54h0M606.75 383.26h0M606.75 380.98h0M606.75 378.70h0M606.75 376.42h0M609.00 378.70h0M609.00 353.62h0M611.25 385.54h0M611.25 365.02h0M611.25 362.74h0M611.25 358.18h0M613.50 387.82h0M613.50 383.26h0M613.50 376.42h0M613.50 362.74h0M615.75 392.38h0M615.75 385.54h0M615.75 376.42h0M618.00 394.66h0M618.00 385.54h0M618.00 380.98h0M618.00 378.70h0M620.25 392.38h0M620.25 387.82h0M620.25 380.98h0M620.25 378.70h0M622.50 390.10h0M624.75 408.34h0M624.75 406.06h0M624.75 403.78h0M624.75 401.50h0M624.75 399.22h0M624.75 396.94h0M624.75 394.66h0M624.75 392.38h0M624.75 385.54h0M624.75 376.42h0M627.00 371.86h0M629.25 401.50h0M629.25 396.94h0M629.25 394.66h0M629.25 392.38h0M629.25 390.10h0M629.25 385.54h0M629.25 383.26h0M629.25 369.58h0M629.25 367.30h0M631.50 374.14h0M631.50 365.02h0M633.75 396.94h0M633.75 392.38h0M633.75 390.10h0M633.75 385.54h0M633.75 383.26h0M636.00 378.70h0M636.00 351.34h0M638.25 380.98h0M638.25 378.70h0M638.25 353.62h0M638.25 351.34h0M640.50 403.78h0M640.50 401.50h0M640.50 399.22h0M640.50 396.94h0M640.50 394.66h0M640.50 390.10h0M640.50 387.82h0M640.50 385.54h0M640.50 367.30h0M640.50 353.62h0M642.75 378.70h0M642.75 376.42h0M642.75 369.58h0M642.75 353.62h0M645.00 385.54h0M645.00 369.58h0M647.25 428.86h0M647.25 406.06h0M647.25 390.10h0M647.25 358.18h0M649.50 437.98h0M649.50 426.58h0M649.50 422.02h0M649.50 417.46h0M649.50 415.18h0M649.50 408.34h0M649.50 399.22h0M649.50 394.66h0M651.75 437.98h0M651.75 428.86h0M651.75 422.02h0M651.75 410.62h0M654.00 433.42h0M654.00 426.58h0M654.00 410.62h0M654.00 396.94h0M656.25 431.14h0M656.25 424.30h0M656.25 387.82h0M656.25 380.98h0M658.50 431.14h0M658.50 403.78h0M658.50 396.94h0M658.50 394.66h0M658.50 383.26h0M660.75 435.70h0M660.75 433.42h0M660.75 428.86h0M663.00 440.26h0M663.00 431.14h0M663.00 419.74h0M663.00 408.34h0M665.25 431.14h0M665.25 408.34h0M665.25 399.22h0M667.50 419.74h0M667.50 417.46h0M667.50 403.78h0M667.50 390.10h0M667.50 385.54h0M669.75 403.78h0M669.75 392.38h0M669.75 387.82h0M669.75 376.42h0M672.00 401.50h0M672.00 399.22h0M672.00 394.66h0M672.00 376.42h0M674.25 394.66h0M674.25 392.38h0M674.25 387.82h0M674.25 380.98h0M674.25 376.42h0M676.50 401.50h0M676.50 387.82h0M678.75 401.50h0M678.75 378.70h0M678.75 374.14h0M681.00 399.22h0M681.00 394.66h0M681.00 380.98h0M681.00 371.86h0M683.25 401.50h0M683.25 385.54h0M683.25 376.42h0M683.25 374.14h0M685.50 428.86h0M685.50 426.58h0M685.50 424.30h0M685.50 422.02h0M685.50 419.74h0M685.50 417.46h0M685.50 415.18h0M685.50 412.90h0M685.50 406.06h0M685.50 380.98h0M685.50 376.42h0M687.75 401.50h0M687.75 392.38h0M690.00 387.82h0M690.00 369.58h0M692.25 399.22h0M692.25 374.14h0M694.50 431.14h0M694.50 428.86h0M694.50 424.30h0M694.50 422.02h0M694.50 419.74h0M694.50 417.46h0M694.50 415.18h0M694.50 410.62h0M694.50 408.34h0M694.50 406.06h0M694.50 403.78h0M694.50 390.10h0M694.50 376.42h0M694.50 371.86h0M696.75 399.22h0M696.75 369.58h0M699.00 399.22h0M699.00 394.66h0M699.00 378.70h0M701.25 387.82h0M703.50 417.46h0M703.50 415.18h0M703.50 410.62h0M703.50 406.06h0M703.50 403.78h0M703.50 401.50h0M703.50 399.22h0M703.50 394.66h0M703.50 390.10h0M703.50 385.54h0M703.50 378.70h0M703.50 371.86h0M705.75 392.38h0M705.75 390.10h0M708.00 392.38h0M708.00 378.70h0M708.00 367.30h0M708.00 365.02h0M710.25 392.38h0M710.25 390.10h0M710.25 367.30h0M710.25 365.02h0M710.25 362.74h0M712.50 408.34h0M712.50 362.74h0M712.50 360.46h0M714.75 424.30h0M714.75 419.74h0M714.75 403.78h0M717.00 424.30h0M719.25 426.58h0M719.25 424.30h0M719.25 410.62h0M719.25 406.06h0M719.25 401.50h0M721.50 403.78h0M723.75 401.50h0M723.75 390.10h0M723.75 383.26h0M726.00 426.58h0M726.00 422.02h0M726.00 419.74h0M726.00 406.06h0M726.00 399.22h0M726.00 394.66h0M726.00 390.10h0M726.00 380.98h0M726.00 376.42h0M726.00 367.30h0M728.25 408.34h0M728.25 406.06h0M728.25 392.38h0M728.25 387.82h0M728.25 380.98h0M728.25 365.02h0M730.50 390.10h0M730.50 385.54h0M730.50 360.46h0M732.75 385.54h0M732.75 383.26h0M735.00 383.26h0M735.00 378.70h0M735.00 358.18h0M737.25 401.50h0M737.25 396.94h0M737.25 394.66h0M737.25 385.54h0M737.25 383.26h0M737.25 362.74h0M737.25 360.46h0M739.50 394.66h0M739.50 392.38h0M739.50 390.10h0M739.50 385.54h0M739.50 362.74h0M739.50 360.46h0M741.75 387.82h0M741.75 380.98h0M741.75 371.86h0M741.75 365.02h0M741.75 362.74h0M744.00 390.10h0M744.00 371.86h0M744.00 367.30h0M744.00 365.02h0M744.00 362.74h0M746.25 390.10h0M746.25 380.98h0M746.25 376.42h0M748.50 387.82h0M748.50 385.54h0M748.50 378.70h0M748.50 362.74h0M750.75 385.54h0M750.75 383.26h0M750.75 376.42h0M750.75 374.14h0M750.75 360.46h0M753.00 399.22h0M753.00 394.66h0M753.00 390.10h0M753.00 374.14h0M753.00 365.02h0M753.00 360.46h0M755.25 396.94h0M755.25 394.66h0M755.25 385.54h0M755.25 380.98h0M755.25 371.86h0M755.25 367.30h0M757.50 406.06h0M757.50 403.78h0M757.50 394.66h0M757.50 385.54h0"/><path stroke="#fff" stroke-opacity="0.45" stroke-width="1.15" d="M199.50 394.66h0M199.50 392.38h0M199.50 387.82h0M199.50 385.54h0M199.50 380.98h0M199.50 378.70h0M199.50 376.42h0M199.50 374.14h0M199.50 371.86h0M199.50 367.30h0M199.50 362.74h0M201.75 403.78h0M201.75 401.50h0M201.75 399.22h0M201.75 396.94h0M201.75 385.54h0M201.75 383.26h0M201.75 374.14h0M204.00 412.90h0M204.00 408.34h0M204.00 399.22h0M204.00 396.94h0M204.00 387.82h0M204.00 378.70h0M206.25 408.34h0M206.25 406.06h0M206.25 403.78h0M206.25 399.22h0M206.25 390.10h0M206.25 387.82h0M206.25 378.70h0M206.25 374.14h0M206.25 369.58h0M206.25 362.74h0M208.50 412.90h0M208.50 408.34h0M208.50 406.06h0M208.50 399.22h0M208.50 394.66h0M208.50 392.38h0M208.50 385.54h0M208.50 376.42h0M208.50 374.14h0M208.50 371.86h0M208.50 369.58h0M210.75 417.46h0M210.75 410.62h0M210.75 408.34h0M210.75 406.06h0M210.75 401.50h0M210.75 399.22h0M210.75 394.66h0M213.00 428.86h0M213.00 426.58h0M213.00 424.30h0M213.00 419.74h0M213.00 412.90h0M213.00 410.62h0M213.00 408.34h0M213.00 403.78h0M213.00 401.50h0M213.00 394.66h0M215.25 431.14h0M215.25 419.74h0M215.25 417.46h0M215.25 415.18h0M215.25 410.62h0M215.25 408.34h0M215.25 406.06h0M215.25 403.78h0M215.25 394.66h0M215.25 390.10h0M215.25 387.82h0M215.25 385.54h0M215.25 383.26h0M215.25 380.98h0M215.25 374.14h0M217.50 422.02h0M217.50 412.90h0M217.50 408.34h0M217.50 406.06h0M217.50 396.94h0M217.50 394.66h0M217.50 392.38h0M217.50 385.54h0M217.50 380.98h0M217.50 378.70h0M217.50 376.42h0M219.75 417.46h0M219.75 415.18h0M219.75 408.34h0M219.75 403.78h0M219.75 399.22h0M222.00 417.46h0M222.00 410.62h0M222.00 408.34h0M222.00 406.06h0M222.00 403.78h0M222.00 401.50h0M224.25 419.74h0M224.25 417.46h0M224.25 412.90h0M224.25 410.62h0M224.25 408.34h0M224.25 406.06h0M226.50 412.90h0M226.50 410.62h0M228.75 417.46h0M228.75 412.90h0M228.75 410.62h0M228.75 408.34h0M231.00 428.86h0M231.00 426.58h0M231.00 422.02h0M231.00 419.74h0M231.00 412.90h0M231.00 408.34h0M233.25 424.30h0M233.25 415.18h0M233.25 412.90h0M233.25 410.62h0M235.50 424.30h0M235.50 422.02h0M235.50 417.46h0M235.50 412.90h0M235.50 410.62h0M237.75 428.86h0M237.75 426.58h0M237.75 422.02h0M237.75 417.46h0M237.75 415.18h0M240.00 428.86h0M240.00 424.30h0M240.00 417.46h0M240.00 415.18h0M240.00 410.62h0M240.00 406.06h0M240.00 401.50h0M242.25 431.14h0M242.25 428.86h0M242.25 426.58h0M242.25 424.30h0M242.25 415.18h0M242.25 412.90h0M244.50 433.42h0M244.50 419.74h0M244.50 417.46h0M244.50 412.90h0M246.75 433.42h0M246.75 431.14h0M246.75 428.86h0M246.75 426.58h0M246.75 424.30h0M246.75 419.74h0M246.75 417.46h0M249.00 424.30h0M249.00 419.74h0M249.00 417.46h0M249.00 412.90h0M249.00 410.62h0M249.00 403.78h0M251.25 422.02h0M251.25 419.74h0M251.25 415.18h0M251.25 412.90h0M251.25 408.34h0M251.25 406.06h0M251.25 396.94h0M251.25 390.10h0M251.25 387.82h0M253.50 401.50h0M253.50 399.22h0M253.50 396.94h0M253.50 394.66h0M253.50 390.10h0M253.50 385.54h0M255.75 406.06h0M255.75 401.50h0M255.75 399.22h0M255.75 396.94h0M255.75 394.66h0M255.75 387.82h0M258.00 396.94h0M258.00 394.66h0M258.00 385.54h0M260.25 399.22h0M260.25 396.94h0M260.25 394.66h0M260.25 392.38h0M260.25 390.10h0M260.25 376.42h0M262.50 396.94h0M262.50 394.66h0M262.50 390.10h0M262.50 387.82h0M262.50 385.54h0M262.50 383.26h0M262.50 378.70h0M264.75 396.94h0M264.75 394.66h0M264.75 383.26h0M267.00 419.74h0M267.00 415.18h0M267.00 410.62h0M267.00 406.06h0M267.00 403.78h0M267.00 394.66h0M267.00 392.38h0M269.25 426.58h0M269.25 424.30h0M269.25 422.02h0M269.25 417.46h0M269.25 412.90h0M271.50 410.62h0M271.50 403.78h0M271.50 401.50h0M271.50 399.22h0M271.50 394.66h0M271.50 390.10h0M271.50 387.82h0M271.50 385.54h0M273.75 396.94h0M273.75 394.66h0M273.75 387.82h0M273.75 385.54h0M273.75 380.98h0M273.75 374.14h0M276.00 396.94h0M276.00 394.66h0M276.00 392.38h0M276.00 387.82h0M276.00 385.54h0M276.00 378.70h0M276.00 376.42h0M276.00 374.14h0M278.25 406.06h0M278.25 399.22h0M278.25 390.10h0M278.25 383.26h0M278.25 378.70h0M278.25 374.14h0M280.50 408.34h0M280.50 406.06h0M280.50 403.78h0M280.50 401.50h0M280.50 399.22h0M280.50 394.66h0M280.50 385.54h0M282.75 415.18h0M282.75 412.90h0M282.75 410.62h0M282.75 408.34h0M282.75 406.06h0M282.75 401.50h0M282.75 399.22h0M282.75 394.66h0M282.75 392.38h0M282.75 390.10h0M282.75 383.26h0M282.75 380.98h0M282.75 378.70h0M285.00 415.18h0M285.00 412.90h0M285.00 408.34h0M285.00 399.22h0M285.00 394.66h0M285.00 392.38h0M287.25 403.78h0M287.25 399.22h0M287.25 392.38h0M289.50 403.78h0M289.50 399.22h0M289.50 394.66h0M289.50 387.82h0M291.75 422.02h0M291.75 417.46h0M291.75 415.18h0M291.75 406.06h0M291.75 399.22h0M291.75 396.94h0M291.75 394.66h0M291.75 390.10h0M291.75 387.82h0M291.75 378.70h0M291.75 376.42h0M291.75 374.14h0M294.00 394.66h0M294.00 392.38h0M294.00 387.82h0M294.00 385.54h0M294.00 376.42h0M294.00 374.14h0M294.00 369.58h0M294.00 367.30h0M296.25 392.38h0M296.25 390.10h0M296.25 387.82h0M296.25 380.98h0M298.50 417.46h0M298.50 415.18h0M298.50 412.90h0M298.50 410.62h0M298.50 408.34h0M298.50 406.06h0M298.50 403.78h0M298.50 396.94h0M298.50 390.10h0M298.50 383.26h0M298.50 380.98h0M300.75 422.02h0M300.75 419.74h0M300.75 417.46h0M300.75 410.62h0M300.75 403.78h0M300.75 401.50h0M303.00 424.30h0M303.00 419.74h0M303.00 412.90h0M303.00 410.62h0M303.00 408.34h0M305.25 424.30h0M305.25 419.74h0M305.25 417.46h0M305.25 408.34h0M307.50 417.46h0M307.50 412.90h0M307.50 410.62h0M307.50 406.06h0M307.50 401.50h0M307.50 390.10h0M307.50 387.82h0M309.75 419.74h0M309.75 417.46h0M309.75 415.18h0M309.75 412.90h0M309.75 408.34h0M309.75 401.50h0M309.75 399.22h0M309.75 390.10h0M309.75 385.54h0M312.00 412.90h0M312.00 406.06h0M312.00 396.94h0M312.00 392.38h0M312.00 390.10h0M312.00 387.82h0M312.00 385.54h0M314.25 410.62h0M314.25 399.22h0M314.25 390.10h0M314.25 387.82h0M314.25 383.26h0M316.50 424.30h0M316.50 410.62h0M316.50 399.22h0M316.50 394.66h0M316.50 392.38h0M318.75 422.02h0M318.75 417.46h0M318.75 415.18h0M318.75 410.62h0M318.75 408.34h0M318.75 403.78h0M318.75 399.22h0M318.75 394.66h0M318.75 392.38h0M318.75 387.82h0M318.75 385.54h0M321.00 415.18h0M321.00 410.62h0M321.00 401.50h0M321.00 399.22h0M321.00 394.66h0M321.00 392.38h0M321.00 390.10h0M323.25 419.74h0M323.25 415.18h0M323.25 403.78h0M323.25 401.50h0M323.25 399.22h0M323.25 396.94h0M325.50 419.74h0M325.50 417.46h0M325.50 412.90h0M325.50 410.62h0M325.50 408.34h0M325.50 401.50h0M325.50 399.22h0M325.50 396.94h0M325.50 394.66h0M325.50 390.10h0M325.50 387.82h0M327.75 419.74h0M327.75 415.18h0M327.75 410.62h0M327.75 406.06h0M327.75 403.78h0M327.75 401.50h0M327.75 394.66h0M327.75 392.38h0M327.75 390.10h0M327.75 387.82h0M330.00 419.74h0M330.00 417.46h0M330.00 403.78h0M330.00 394.66h0M330.00 392.38h0M330.00 390.10h0M330.00 385.54h0M330.00 383.26h0M332.25 403.78h0M332.25 401.50h0M332.25 399.22h0M332.25 394.66h0M332.25 392.38h0M332.25 385.54h0M332.25 383.26h0M332.25 378.70h0M332.25 374.14h0M334.50 401.50h0M334.50 390.10h0M334.50 387.82h0M334.50 385.54h0M334.50 383.26h0M334.50 378.70h0M334.50 376.42h0M336.75 406.06h0M336.75 403.78h0M336.75 401.50h0M336.75 399.22h0M336.75 396.94h0M336.75 394.66h0M336.75 392.38h0M336.75 385.54h0M339.00 412.90h0M339.00 410.62h0M339.00 403.78h0M339.00 399.22h0M339.00 396.94h0M339.00 392.38h0M339.00 390.10h0M339.00 385.54h0M339.00 383.26h0M339.00 378.70h0M339.00 376.42h0M341.25 415.18h0M341.25 408.34h0M341.25 403.78h0M341.25 401.50h0M341.25 396.94h0M341.25 394.66h0M341.25 390.10h0M341.25 387.82h0M341.25 385.54h0M341.25 378.70h0M341.25 374.14h0M343.50 399.22h0M343.50 396.94h0M343.50 394.66h0M343.50 392.38h0M343.50 387.82h0M343.50 385.54h0M343.50 378.70h0M345.75 408.34h0M345.75 403.78h0M345.75 401.50h0M345.75 399.22h0M345.75 396.94h0M345.75 394.66h0M345.75 387.82h0M345.75 385.54h0M345.75 383.26h0M345.75 380.98h0M348.00 408.34h0M348.00 406.06h0M348.00 385.54h0M348.00 376.42h0M350.25 396.94h0M350.25 392.38h0M350.25 390.10h0M350.25 383.26h0M350.25 378.70h0M350.25 374.14h0M350.25 371.86h0M352.50 401.50h0M352.50 396.94h0M352.50 392.38h0M352.50 387.82h0M352.50 383.26h0M352.50 380.98h0M352.50 378.70h0M352.50 374.14h0M354.75 403.78h0M354.75 401.50h0M354.75 399.22h0M354.75 390.10h0M354.75 387.82h0M354.75 380.98h0M354.75 378.70h0M357.00 415.18h0M357.00 410.62h0M357.00 403.78h0M357.00 399.22h0M357.00 396.94h0M357.00 387.82h0M357.00 385.54h0M357.00 380.98h0M357.00 378.70h0M357.00 376.42h0M357.00 374.14h0M359.25 396.94h0M359.25 394.66h0M359.25 392.38h0M359.25 387.82h0M359.25 383.26h0M359.25 380.98h0M359.25 378.70h0M359.25 376.42h0M359.25 371.86h0M359.25 369.58h0M361.50 394.66h0M361.50 392.38h0M361.50 390.10h0M361.50 387.82h0M361.50 376.42h0M361.50 371.86h0M363.75 408.34h0M363.75 399.22h0M363.75 396.94h0M363.75 394.66h0M363.75 390.10h0M363.75 385.54h0M363.75 380.98h0M363.75 374.14h0M366.00 399.22h0M366.00 396.94h0M366.00 390.10h0M366.00 387.82h0M366.00 385.54h0M366.00 383.26h0M366.00 380.98h0M366.00 378.70h0M366.00 376.42h0M368.25 390.10h0M368.25 385.54h0M368.25 380.98h0M368.25 378.70h0M368.25 371.86h0M370.50 396.94h0M370.50 394.66h0M370.50 392.38h0M370.50 369.58h0M372.75 396.94h0M372.75 394.66h0M372.75 378.70h0M372.75 374.14h0M375.00 399.22h0M375.00 385.54h0M375.00 380.98h0M375.00 376.42h0M375.00 371.86h0M377.25 394.66h0M377.25 387.82h0M377.25 385.54h0M377.25 383.26h0M377.25 380.98h0M377.25 378.70h0M379.50 401.50h0M379.50 399.22h0M379.50 392.38h0M379.50 390.10h0M379.50 387.82h0M379.50 383.26h0M379.50 378.70h0M381.75 417.46h0M381.75 415.18h0M381.75 399.22h0M381.75 396.94h0M384.00 415.18h0M384.00 410.62h0M384.00 403.78h0M384.00 401.50h0M384.00 396.94h0M384.00 394.66h0M384.00 392.38h0M386.25 394.66h0M386.25 392.38h0M386.25 385.54h0M386.25 383.26h0M386.25 380.98h0M388.50 390.10h0M388.50 387.82h0M388.50 385.54h0M388.50 383.26h0M388.50 380.98h0M390.75 394.66h0M390.75 390.10h0M393.00 394.66h0M395.25 392.38h0M397.50 394.66h0M397.50 387.82h0M397.50 383.26h0M399.75 392.38h0M399.75 390.10h0M402.00 387.82h0M402.00 385.54h0M404.25 390.10h0M404.25 387.82h0M404.25 376.42h0M406.50 392.38h0M406.50 390.10h0M406.50 376.42h0M408.75 385.54h0M408.75 378.70h0M411.00 380.98h0M411.00 376.42h0M413.25 385.54h0M415.50 385.54h0M415.50 378.70h0M417.75 385.54h0M417.75 383.26h0M417.75 380.98h0M417.75 378.70h0M420.00 385.54h0M420.00 378.70h0M420.00 374.14h0M422.25 383.26h0M422.25 380.98h0M422.25 378.70h0M424.50 383.26h0M424.50 380.98h0M426.75 394.66h0M426.75 387.82h0M426.75 385.54h0M426.75 383.26h0M426.75 380.98h0M426.75 378.70h0M429.00 376.42h0M429.00 369.58h0M431.25 376.42h0M431.25 374.14h0M431.25 371.86h0M433.50 383.26h0M433.50 376.42h0M433.50 374.14h0M435.75 392.38h0M435.75 387.82h0M435.75 385.54h0M435.75 378.70h0M435.75 369.58h0M438.00 424.30h0M438.00 419.74h0M438.00 412.90h0M438.00 403.78h0M438.00 399.22h0M438.00 396.94h0M438.00 394.66h0M438.00 383.26h0M438.00 378.70h0M438.00 371.86h0M440.25 403.78h0M440.25 394.66h0M440.25 390.10h0M440.25 387.82h0M440.25 385.54h0M442.50 390.10h0M442.50 385.54h0M442.50 378.70h0M442.50 374.14h0M444.75 392.38h0M444.75 387.82h0M444.75 380.98h0M444.75 378.70h0M444.75 376.42h0M444.75 374.14h0M447.00 378.70h0M447.00 371.86h0M449.25 371.86h0M449.25 369.58h0M449.25 367.30h0M449.25 362.74h0M451.50 362.74h0M451.50 358.18h0M453.75 374.14h0M453.75 369.58h0M453.75 367.30h0M453.75 362.74h0M453.75 360.46h0M456.00 371.86h0M456.00 369.58h0M456.00 365.02h0M456.00 362.74h0M456.00 360.46h0M458.25 371.86h0M458.25 369.58h0M458.25 367.30h0M458.25 365.02h0M460.50 376.42h0M460.50 371.86h0M460.50 369.58h0M460.50 365.02h0M460.50 362.74h0M462.75 371.86h0M462.75 369.58h0M462.75 367.30h0M462.75 365.02h0M465.00 371.86h0M465.00 367.30h0M467.25 369.58h0M469.50 387.82h0M469.50 371.86h0M471.75 374.14h0M471.75 371.86h0M471.75 365.02h0M471.75 362.74h0M474.00 383.26h0M474.00 378.70h0M474.00 371.86h0M474.00 369.58h0M476.25 369.58h0M476.25 367.30h0M478.50 376.42h0M478.50 374.14h0M478.50 371.86h0M478.50 369.58h0M478.50 367.30h0M480.75 378.70h0M480.75 374.14h0M480.75 371.86h0M480.75 369.58h0M480.75 367.30h0M483.00 387.82h0M483.00 383.26h0M483.00 380.98h0M483.00 376.42h0M483.00 374.14h0M485.25 369.58h0M485.25 365.02h0M487.50 390.10h0M487.50 378.70h0M487.50 376.42h0M487.50 374.14h0M487.50 367.30h0M487.50 365.02h0M487.50 362.74h0M487.50 358.18h0M489.75 378.70h0M489.75 374.14h0M489.75 367.30h0M489.75 360.46h0M489.75 358.18h0M492.00 385.54h0M492.00 378.70h0M492.00 376.42h0M492.00 374.14h0M492.00 371.86h0M492.00 369.58h0M492.00 367.30h0M492.00 365.02h0M492.00 362.74h0M492.00 358.18h0M494.25 383.26h0M494.25 376.42h0M494.25 374.14h0M494.25 371.86h0M494.25 369.58h0M494.25 367.30h0M494.25 365.02h0M494.25 360.46h0M494.25 358.18h0M494.25 353.62h0M496.50 374.14h0M496.50 369.58h0M496.50 358.18h0M496.50 353.62h0M498.75 396.94h0M498.75 376.42h0M498.75 374.14h0M498.75 369.58h0M498.75 367.30h0M498.75 365.02h0M498.75 355.90h0M501.00 380.98h0M501.00 378.70h0M501.00 376.42h0M501.00 371.86h0M501.00 369.58h0M501.00 365.02h0M501.00 360.46h0M501.00 358.18h0M501.00 355.90h0M501.00 353.62h0M503.25 371.86h0M503.25 369.58h0M503.25 367.30h0M503.25 358.18h0M503.25 355.90h0M505.50 362.74h0M505.50 360.46h0M505.50 351.34h0M507.75 367.30h0M507.75 360.46h0M507.75 358.18h0M507.75 353.62h0M510.00 362.74h0M510.00 360.46h0M510.00 358.18h0M510.00 353.62h0M512.25 369.58h0M512.25 367.30h0M512.25 365.02h0M512.25 362.74h0M512.25 360.46h0M512.25 358.18h0M514.50 367.30h0M514.50 365.02h0M514.50 360.46h0M514.50 355.90h0M514.50 353.62h0M516.75 390.10h0M516.75 369.58h0M516.75 367.30h0M516.75 360.46h0M516.75 358.18h0M516.75 353.62h0M519.00 371.86h0M519.00 365.02h0M519.00 358.18h0M521.25 374.14h0M521.25 369.58h0M521.25 365.02h0M521.25 362.74h0M521.25 360.46h0M523.50 371.86h0M523.50 369.58h0M523.50 362.74h0M523.50 360.46h0M523.50 358.18h0M525.75 367.30h0M525.75 365.02h0M525.75 362.74h0M525.75 358.18h0M525.75 355.90h0M528.00 369.58h0M528.00 365.02h0M530.25 367.30h0M530.25 362.74h0M532.50 374.14h0M532.50 367.30h0M532.50 355.90h0M534.75 369.58h0M534.75 367.30h0M534.75 365.02h0M534.75 353.62h0M537.00 371.86h0M537.00 367.30h0M537.00 362.74h0M537.00 360.46h0M537.00 358.18h0M539.25 367.30h0M539.25 358.18h0M541.50 392.38h0M541.50 385.54h0M541.50 376.42h0M541.50 374.14h0M541.50 369.58h0M541.50 365.02h0M541.50 362.74h0M543.75 367.30h0M543.75 365.02h0M543.75 360.46h0M543.75 355.90h0M546.00 362.74h0M546.00 358.18h0M546.00 355.90h0M548.25 367.30h0M548.25 365.02h0M550.50 390.10h0M550.50 380.98h0M550.50 378.70h0M550.50 376.42h0M550.50 367.30h0M550.50 365.02h0M550.50 360.46h0M550.50 358.18h0M552.75 399.22h0M552.75 387.82h0M552.75 383.26h0M552.75 380.98h0M552.75 376.42h0M552.75 374.14h0M552.75 371.86h0M552.75 369.58h0M552.75 362.74h0M552.75 360.46h0M555.00 385.54h0M555.00 383.26h0M555.00 376.42h0M555.00 371.86h0M555.00 369.58h0M555.00 367.30h0M555.00 365.02h0M555.00 355.90h0M555.00 353.62h0M555.00 351.34h0M555.00 349.06h0M557.25 371.86h0M557.25 369.58h0M557.25 355.90h0M557.25 346.78h0M559.50 390.10h0M559.50 374.14h0M559.50 371.86h0M559.50 369.58h0M559.50 367.30h0M559.50 365.02h0M559.50 362.74h0M559.50 358.18h0M559.50 353.62h0M561.75 376.42h0M561.75 374.14h0M561.75 369.58h0M561.75 365.02h0M561.75 360.46h0M564.00 394.66h0M564.00 374.14h0M564.00 371.86h0M564.00 367.30h0M564.00 365.02h0M564.00 362.74h0M564.00 360.46h0M566.25 371.86h0M566.25 369.58h0M566.25 365.02h0M568.50 369.58h0M568.50 367.30h0M568.50 355.90h0M568.50 353.62h0M570.75 387.82h0M570.75 374.14h0M570.75 365.02h0M570.75 362.74h0M570.75 360.46h0M570.75 355.90h0M573.00 367.30h0M573.00 365.02h0M573.00 362.74h0M573.00 358.18h0M573.00 351.34h0M573.00 349.06h0M573.00 346.78h0M575.25 392.38h0M575.25 380.98h0M575.25 378.70h0M575.25 367.30h0M575.25 365.02h0M575.25 362.74h0M575.25 358.18h0M577.50 380.98h0M577.50 371.86h0M577.50 369.58h0M577.50 367.30h0M577.50 365.02h0M577.50 362.74h0M577.50 358.18h0M577.50 355.90h0M579.75 367.30h0M579.75 365.02h0M579.75 362.74h0M579.75 360.46h0M579.75 358.18h0M579.75 355.90h0M582.00 390.10h0M582.00 374.14h0M582.00 371.86h0M582.00 367.30h0M582.00 360.46h0M582.00 358.18h0M582.00 355.90h0M582.00 353.62h0M584.25 369.58h0M584.25 367.30h0M584.25 365.02h0M584.25 355.90h0M584.25 353.62h0M584.25 351.34h0M586.50 365.02h0M586.50 362.74h0M586.50 358.18h0M586.50 353.62h0M588.75 378.70h0M588.75 371.86h0M588.75 369.58h0M588.75 367.30h0M588.75 362.74h0M588.75 360.46h0M588.75 355.90h0M588.75 353.62h0M588.75 351.34h0M588.75 349.06h0M591.00 367.30h0M591.00 362.74h0M591.00 353.62h0M591.00 349.06h0M591.00 346.78h0M591.00 344.50h0M593.25 365.02h0M593.25 362.74h0M593.25 358.18h0M593.25 355.90h0M593.25 351.34h0M593.25 346.78h0M595.50 367.30h0M595.50 360.46h0M595.50 355.90h0M595.50 351.34h0M595.50 346.78h0M597.75 390.10h0M597.75 369.58h0M597.75 360.46h0M597.75 353.62h0M600.00 362.74h0M600.00 355.90h0M600.00 349.06h0M602.25 362.74h0M602.25 360.46h0M602.25 358.18h0M602.25 353.62h0M604.50 396.94h0M604.50 376.42h0M604.50 371.86h0M604.50 360.46h0M604.50 358.18h0M606.75 392.38h0M606.75 390.10h0M606.75 374.14h0M606.75 369.58h0M606.75 367.30h0M606.75 362.74h0M606.75 360.46h0M606.75 358.18h0M606.75 353.62h0M609.00 371.86h0M609.00 369.58h0M609.00 367.30h0M609.00 362.74h0M609.00 358.18h0M609.00 355.90h0M611.25 387.82h0M611.25 380.98h0M611.25 374.14h0M611.25 367.30h0M613.50 385.54h0M613.50 380.98h0M613.50 374.14h0M615.75 383.26h0M615.75 380.98h0M615.75 378.70h0M618.00 390.10h0M618.00 383.26h0M620.25 390.10h0M620.25 383.26h0M622.50 385.54h0M622.50 383.26h0M622.50 378.70h0M624.75 390.10h0M624.75 387.82h0M624.75 378.70h0M627.00 383.26h0M627.00 374.14h0M629.25 378.70h0M629.25 376.42h0M629.25 374.14h0M629.25 371.86h0M631.50 380.98h0M631.50 369.58h0M631.50 367.30h0M633.75 387.82h0M633.75 378.70h0M633.75 376.42h0M633.75 371.86h0M633.75 367.30h0M633.75 365.02h0M633.75 362.74h0M633.75 360.46h0M636.00 376.42h0M636.00 374.14h0M636.00 371.86h0M636.00 369.58h0M636.00 367.30h0M636.00 362.74h0M636.00 358.18h0M636.00 355.90h0M636.00 353.62h0M638.25 376.42h0M638.25 371.86h0M638.25 369.58h0M638.25 365.02h0M638.25 362.74h0M640.50 408.34h0M640.50 406.06h0M640.50 392.38h0M640.50 383.26h0M640.50 376.42h0M640.50 374.14h0M640.50 362.74h0M640.50 360.46h0M640.50 358.18h0M640.50 355.90h0M642.75 374.14h0M642.75 371.86h0M642.75 367.30h0M642.75 362.74h0M642.75 360.46h0M642.75 358.18h0M645.00 380.98h0M645.00 378.70h0M645.00 374.14h0M645.00 371.86h0M645.00 367.30h0M645.00 365.02h0M645.00 360.46h0M645.00 358.18h0M645.00 355.90h0M645.00 353.62h0M647.25 426.58h0M647.25 424.30h0M647.25 419.74h0M647.25 412.90h0M647.25 408.34h0M647.25 401.50h0M647.25 399.22h0M647.25 396.94h0M647.25 387.82h0M647.25 385.54h0M647.25 383.26h0M647.25 378.70h0M647.25 376.42h0M647.25 371.86h0M647.25 369.58h0M647.25 367.30h0M647.25 360.46h0M649.50 435.70h0M649.50 433.42h0M649.50 424.30h0M649.50 410.62h0M649.50 401.50h0M649.50 396.94h0M651.75 426.58h0M651.75 424.30h0M651.75 417.46h0M651.75 415.18h0M651.75 412.90h0M651.75 408.34h0M654.00 431.14h0M654.00 428.86h0M654.00 424.30h0M654.00 415.18h0M654.00 412.90h0M654.00 408.34h0M654.00 406.06h0M654.00 403.78h0M654.00 401.50h0M654.00 399.22h0M656.25 433.42h0M656.25 426.58h0M656.25 422.02h0M656.25 419.74h0M656.25 417.46h0M656.25 415.18h0M656.25 412.90h0M656.25 410.62h0M656.25 406.06h0M656.25 399.22h0M656.25 396.94h0M656.25 392.38h0M656.25 385.54h0M656.25 383.26h0M656.25 378.70h0M658.50 428.86h0M658.50 426.58h0M658.50 422.02h0M658.50 417.46h0M658.50 410.62h0M658.50 408.34h0M658.50 399.22h0M658.50 387.82h0M660.75 437.98h0M660.75 424.30h0M660.75 422.02h0M660.75 419.74h0M660.75 417.46h0M660.75 415.18h0M660.75 412.90h0M660.75 408.34h0M660.75 406.06h0M663.00 433.42h0M663.00 428.86h0M663.00 426.58h0M663.00 424.30h0M663.00 422.02h0M663.00 417.46h0M663.00 412.90h0M663.00 410.62h0M665.25 433.42h0M665.25 422.02h0M665.25 419.74h0M665.25 417.46h0M665.25 412.90h0M665.25 406.06h0M665.25 401.50h0M667.50 415.18h0M667.50 408.34h0M667.50 401.50h0M667.50 396.94h0M667.50 387.82h0M669.75 401.50h0M669.75 399.22h0M669.75 394.66h0M669.75 390.10h0M669.75 385.54h0M669.75 380.98h0M669.75 378.70h0M672.00 396.94h0M672.00 392.38h0M672.00 390.10h0M672.00 387.82h0M672.00 383.26h0M672.00 380.98h0M674.25 401.50h0M674.25 396.94h0M674.25 385.54h0M674.25 383.26h0M674.25 378.70h0M676.50 399.22h0M676.50 396.94h0M676.50 394.66h0M676.50 392.38h0M676.50 390.10h0M676.50 385.54h0M676.50 380.98h0M676.50 378.70h0M678.75 396.94h0M678.75 392.38h0M678.75 387.82h0M678.75 383.26h0M678.75 380.98h0M678.75 376.42h0M681.00 392.38h0M681.00 390.10h0M681.00 387.82h0M681.00 378.70h0M681.00 376.42h0M683.25 399.22h0M683.25 394.66h0M683.25 390.10h0M683.25 380.98h0M683.25 378.70h0M685.50 403.78h0M685.50 401.50h0M685.50 392.38h0M685.50 390.10h0M685.50 387.82h0M685.50 378.70h0M687.75 376.42h0M687.75 374.14h0M687.75 371.86h0M690.00 401.50h0M690.00 396.94h0M690.00 392.38h0M690.00 380.98h0M690.00 376.42h0M690.00 374.14h0M690.00 371.86h0M692.25 390.10h0M692.25 376.42h0M692.25 371.86h0M692.25 369.58h0M694.50 426.58h0M694.50 412.90h0M694.50 401.50h0M694.50 399.22h0M694.50 394.66h0M694.50 392.38h0M694.50 387.82h0M694.50 383.26h0M694.50 374.14h0M696.75 401.50h0M696.75 396.94h0M696.75 392.38h0M696.75 390.10h0M696.75 385.54h0M696.75 380.98h0M696.75 378.70h0M696.75 374.14h0M696.75 367.30h0M699.00 396.94h0M699.00 392.38h0M699.00 387.82h0M699.00 383.26h0M699.00 380.98h0M699.00 376.42h0M699.00 371.86h0M699.00 369.58h0M701.25 392.38h0M701.25 390.10h0M701.25 385.54h0M701.25 383.26h0M701.25 378.70h0M701.25 374.14h0M701.25 371.86h0M701.25 369.58h0M701.25 367.30h0M703.50 408.34h0M703.50 396.94h0M703.50 387.82h0M703.50 376.42h0M703.50 374.14h0M703.50 369.58h0M703.50 367.30h0M705.75 385.54h0M705.75 383.26h0M705.75 380.98h0M705.75 376.42h0M705.75 369.58h0M705.75 365.02h0M708.00 394.66h0M708.00 390.10h0M708.00 387.82h0M708.00 380.98h0M708.00 376.42h0M708.00 371.86h0M710.25 387.82h0M710.25 380.98h0M710.25 378.70h0M710.25 374.14h0M710.25 371.86h0M710.25 369.58h0M712.50 403.78h0M712.50 401.50h0M712.50 396.94h0M712.50 392.38h0M712.50 387.82h0M712.50 385.54h0M712.50 380.98h0M712.50 378.70h0M712.50 371.86h0M712.50 369.58h0M712.50 365.02h0M714.75 415.18h0M714.75 412.90h0M714.75 408.34h0M714.75 406.06h0M714.75 401.50h0M714.75 394.66h0M714.75 392.38h0M717.00 422.02h0M717.00 419.74h0M717.00 415.18h0M717.00 408.34h0M717.00 401.50h0M717.00 399.22h0M717.00 396.94h0M719.25 419.74h0M719.25 417.46h0M719.25 408.34h0M719.25 403.78h0M721.50 424.30h0M721.50 422.02h0M721.50 419.74h0M721.50 417.46h0M721.50 415.18h0M721.50 412.90h0M723.75 422.02h0M723.75 417.46h0M723.75 406.06h0M723.75 394.66h0M723.75 392.38h0M723.75 387.82h0M726.00 410.62h0M726.00 401.50h0M726.00 396.94h0M726.00 392.38h0M726.00 387.82h0M726.00 385.54h0M726.00 374.14h0M726.00 371.86h0M726.00 369.58h0M728.25 401.50h0M728.25 394.66h0M728.25 385.54h0M728.25 383.26h0M728.25 378.70h0M728.25 374.14h0M728.25 371.86h0M728.25 369.58h0M728.25 367.30h0M730.50 403.78h0M730.50 394.66h0M730.50 387.82h0M730.50 383.26h0M730.50 376.42h0M730.50 374.14h0M730.50 371.86h0M730.50 369.58h0M730.50 367.30h0M730.50 365.02h0M730.50 362.74h0M732.75 378.70h0M732.75 376.42h0M732.75 374.14h0M732.75 360.46h0M735.00 385.54h0M735.00 380.98h0M735.00 371.86h0M735.00 369.58h0M735.00 367.30h0M735.00 365.02h0M735.00 362.74h0M737.25 392.38h0M737.25 390.10h0M737.25 387.82h0M737.25 380.98h0M737.25 376.42h0M737.25 367.30h0M739.50 387.82h0M739.50 374.14h0M739.50 369.58h0M741.75 385.54h0M741.75 383.26h0M741.75 374.14h0M741.75 367.30h0M744.00 385.54h0M744.00 383.26h0M744.00 380.98h0M744.00 378.70h0M744.00 374.14h0M744.00 369.58h0M746.25 387.82h0M746.25 383.26h0M746.25 374.14h0M746.25 371.86h0M746.25 365.02h0M746.25 362.74h0M746.25 360.46h0M748.50 380.98h0M748.50 376.42h0M748.50 371.86h0M748.50 369.58h0M750.75 387.82h0M750.75 371.86h0M750.75 367.30h0M753.00 396.94h0M753.00 383.26h0M753.00 378.70h0M753.00 376.42h0M755.25 408.34h0M755.25 406.06h0M755.25 403.78h0M755.25 401.50h0M755.25 392.38h0M755.25 390.10h0M755.25 387.82h0M755.25 374.14h0M755.25 369.58h0M757.50 399.22h0M757.50 396.94h0"/></g>
<path stroke="#1a1a1a" stroke-width="1" fill="none" d="M171.70 106.10V558.90M171.20 558.40H805.17M171.70 558.40v9.2M242.03 558.40v6M312.36 558.40v9.2M382.69 558.40v6M453.02 558.40v9.2M523.35 558.40v6M593.68 558.40v9.2M664.01 558.40v6M734.34 558.40v9.2M804.67 558.40v6M171.70 558.40h-9.2M171.70 501.92h-6M171.70 445.45h-9.2M171.70 388.97h-6M171.70 332.50h-9.2M171.70 276.02h-6M171.70 219.55h-9.2M171.70 163.07h-6M171.70 106.60h-9.2"/>
<g font-family="'Liberation Serif', 'Times New Roman', serif" font-size="20" fill="#000" stroke="#000" stroke-width="0.15" style="text-rendering:geometricPrecision"><text x="171.2" y="585" text-anchor="middle" font-size="18">0</text><text x="311.9" y="585" text-anchor="middle" font-size="18">5</text><text x="453.0" y="585" text-anchor="middle" font-size="18">10</text><text x="593.7" y="585" text-anchor="middle" font-size="18">15</text><text x="734.3" y="585" text-anchor="middle" font-size="18">20</text><text x="159.3" y="565.0" text-anchor="end" font-size="18">0.0</text><text x="159.3" y="452.0" text-anchor="end" font-size="18">0.5</text><text x="159.3" y="339.0" text-anchor="end" font-size="18">1.0</text><text x="159.3" y="226.0" text-anchor="end" font-size="18">1.5</text><text x="159.3" y="113.0" text-anchor="end" font-size="18">2.0</text><text x="488" y="71.3" text-anchor="middle" xml:space="preserve">Record:  f143b</text><text x="488.5" y="636" text-anchor="middle">Time (hour)</text><text transform="translate(100,332.5) rotate(-90)" text-anchor="middle">RR Interval (second)</text></g>
</svg>
</body></html>
